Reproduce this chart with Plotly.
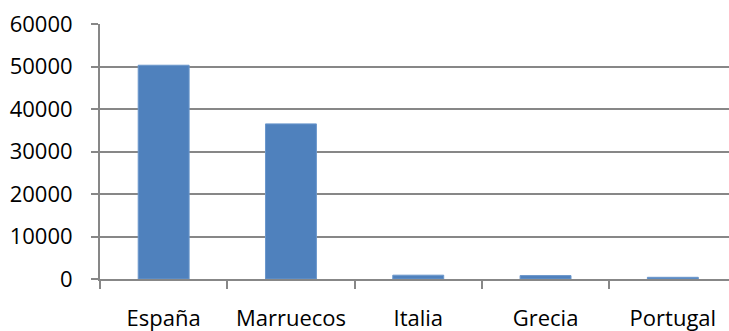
import plotly.graph_objects as go

# Data
countries = ["España", "Marruecos", "Italia", "Grecia", "Portugal"]
values = [50300, 36500, 900, 800, 400]
y_ticks = [0, 10000, 20000, 30000, 40000, 50000, 60000]

axis_gray = "#878787"
font_family = "Open Sans"

fig = go.Figure(
    go.Bar(
        x=countries,
        y=values,
        marker=dict(color="#4F81BD", line=dict(color="#6b97cc", width=1)),
        width=0.4,
    )
)

plot_left = 100
plot_width = 729 - plot_left
cat_px = 127.3

fig.update_layout(
    width=729,
    height=331,
    margin=dict(l=plot_left, r=0, t=24, b=52),
    paper_bgcolor="white",
    plot_bgcolor="white",
    showlegend=False,
    font=dict(family=font_family, size=22, color="black"),
)

fig.update_xaxes(
    type="category",
    range=[-0.5, -0.5 + plot_width / cat_px],
    automargin=False,
    showline=True,
    linecolor=axis_gray,
    linewidth=2,
    ticks="outside",
    tickson="boundaries",
    ticklen=8,
    tickwidth=1.5,
    tickcolor=axis_gray,
    showgrid=False,
    ticklabelstandoff=19,
    tickfont=dict(family=font_family, size=22, color="black"),
)

fig.update_yaxes(
    range=[0, 60000],
    automargin=False,
    tickvals=y_ticks,
    ticktext=[str(v) for v in y_ticks],
    showline=True,
    linecolor=axis_gray,
    linewidth=2,
    ticks="outside",
    ticklen=7,
    tickwidth=1.5,
    tickcolor=axis_gray,
    showgrid=True,
    gridcolor=axis_gray,
    gridwidth=2,
    zeroline=False,
    ticklabelstandoff=14,
    tickfont=dict(family=font_family, size=22, color="black"),
)

fig.write_html("out.html")
